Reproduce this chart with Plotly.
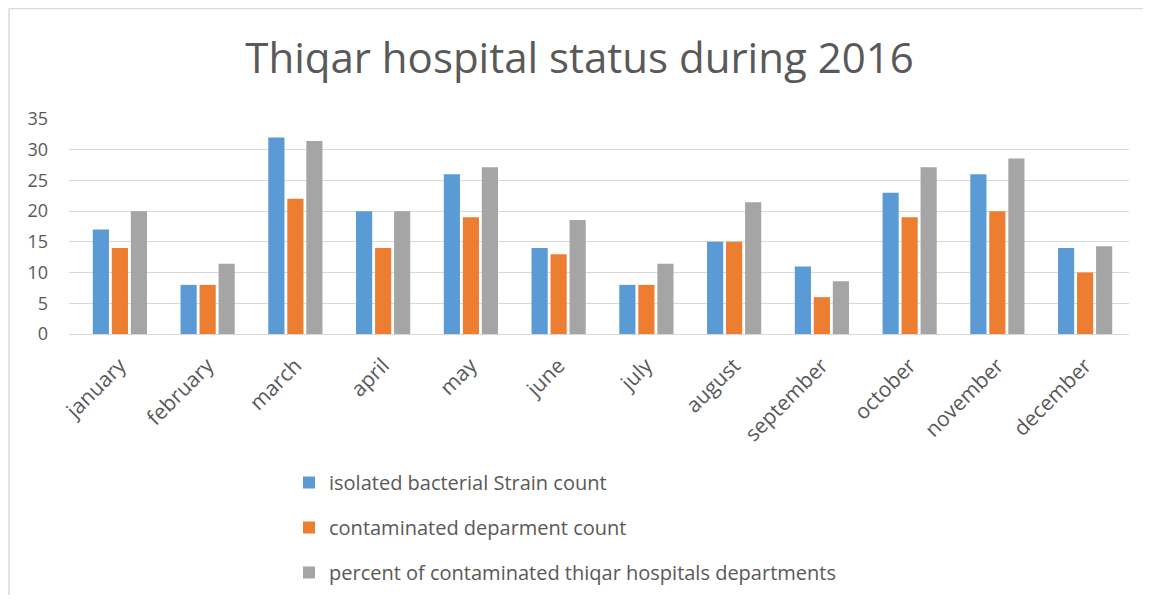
import plotly.graph_objects as go

months = ["january", "february", "march", "april", "may", "june", "july",
          "august", "september", "october", "november", "december"]
isolated = [17, 8, 32, 20, 26, 14, 8, 15, 11, 23, 26, 14]
contaminated = [14, 8, 22, 14, 19, 13, 8, 15, 6, 19, 20, 10]
percent = [20, 11.43, 31.43, 20, 27.14, 18.57, 11.43, 21.43, 8.57, 27.14, 28.57, 14.29]

series_names = ["isolated bacterial Strain count",
                "contaminated deparment count",
                "percent of contaminated thiqar hospitals departments"]
colors = ["#5b9bd5", "#ed7d31", "#a5a5a5"]

# page has a small body margin; figure sized to fit the window without scrollbars
W, H = 1143, 587
L, R, T, B = 61, 1121, 111, 326

fig = go.Figure()
for i, (name, vals) in enumerate(zip(series_names, [isolated, contaminated, percent])):
    fig.add_trace(go.Bar(x=months, y=vals, name=name, marker_color=colors[i],
                         marker_line_width=0, legendgroup=str(i)))

def px_x(p):
    return (p - L) / (R - L)

def px_y(p):
    return (B - p) / (B - T)

border = dict(color="#d9d9d9", width=1.5)
fig.add_shape(type="line", xref="paper", yref="paper",
              x0=px_x(1), x1=px_x(1300), y0=px_y(0.5), y1=px_y(0.5), line=border, layer="below")
fig.add_shape(type="line", xref="paper", yref="paper",
              x0=px_x(1), x1=px_x(1), y0=px_y(0.5), y1=px_y(700), line=border, layer="below")

fig.update_layout(
    width=W, height=H, autosize=False,
    margin=dict(l=L, r=W - R, t=T, b=H - B, autoexpand=False),
    paper_bgcolor="white", plot_bgcolor="white",
    barmode="group", bargap=0.35, bargroupgap=0.15,
    title=dict(text="Thiqar hospital status during 2016", x=0.5, xanchor="center",
               y=1 - 50 / H, yanchor="middle",
               font=dict(family="Open Sans", size=42, color="#595959")),
    font=dict(family="Open Sans", color="#595959"),
    xaxis=dict(tickangle=-45, tickfont=dict(size=21, color="#595959"),
               range=[-0.58, 11.5], ticklabelstandoff=10, automargin=False,
               showline=True, linecolor="#d9d9d9", linewidth=1, ticks="", showgrid=False),
    yaxis=dict(range=[0, 35], dtick=5, tickfont=dict(size=18, color="#595959"),
               showgrid=True, gridcolor="#d9d9d9", gridwidth=1, zeroline=False, automargin=False,
               ticks="", ticklen=0, showline=False, ticklabelstandoff=20),
    legend=dict(orientation="v", x=px_x(281), xanchor="left", y=px_y(455), yanchor="top",
                font=dict(size=20, color="#595959"), tracegroupgap=16,
                itemwidth=30, bgcolor="rgba(0,0,0,0)"),
)

fig.write_html("out.html")
